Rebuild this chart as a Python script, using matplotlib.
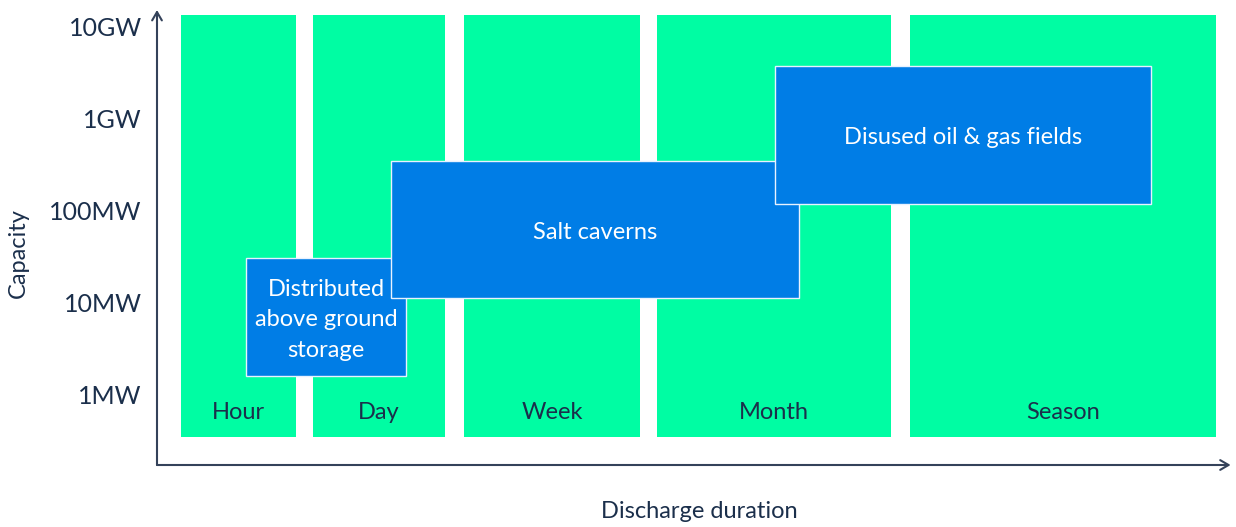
import matplotlib.pyplot as plt
from matplotlib.patches import Rectangle

plt.rcParams['font.family'] = ['Lato', 'DejaVu Sans']

# discharge duration columns (x span in chart units) and capacity range (MW)
durations = ["Hour", "Day", "Week", "Month", "Season"]
dur_start = [24, 156, 307, 500, 753]
dur_end = [139, 288, 483, 734, 1059]
col_low, col_high = 0.35, 13500
label_level = 0.65

# storage technologies: x span + capacity span (MW)
techs = ["Distributed\nabove ground\nstorage", "Salt caverns", "Disused oil & gas fields"]
tech_x0 = [89, 234, 618]
tech_x1 = [249, 642, 994]
tech_cap_low = [1.61, 11.3, 119]
tech_cap_high = [30.8, 349, 3770]

cap_ticks = [1, 10, 100, 1000, 10000]
cap_labels = ["1MW", "10MW", "100MW", "1GW", "10GW"]

green = "#00FDA3"
blue = "#007DE6"
navy = "#1B2F4B"
axis_col = "#34425A"

fig = plt.figure(figsize=(12.36, 5.27), dpi=100)
ax = fig.add_axes([157 / 1236, 62 / 527, 1079 / 1236, 455 / 527])
ax.set_yscale("log")
ax.set_xlim(0, 1079)
ax.set_ylim(0.173, 15300)

for name, x0, x1 in zip(durations, dur_start, dur_end):
    ax.add_patch(Rectangle((x0, col_low), x1 - x0, col_high - col_low,
                           facecolor=green, edgecolor="none", zorder=1))
    ax.text((x0 + x1) / 2, label_level, name, ha="center", va="center",
            fontsize=17, color=navy, zorder=2)

for i, (name, x0, x1, lo, hi) in enumerate(zip(techs, tech_x0, tech_x1, tech_cap_low, tech_cap_high)):
    ax.add_patch(Rectangle((x0, lo), x1 - x0, hi - lo, facecolor=blue,
                           edgecolor="#E8F2FF", linewidth=1, zorder=3 + i))
    ax.text((x0 + x1) / 2, (lo * hi) ** 0.5 * 0.93, name, ha="center", va="center",
            fontsize=17, color="white", linespacing=1.55, zorder=3 + i)

ax.set_yticks(cap_ticks)
ax.set_yticklabels(cap_labels, fontsize=18, color=navy)
ax.minorticks_off()
ax.tick_params(axis="y", length=0, pad=11)
ax.set_xticks([])
for s in ax.spines.values():
    s.set_visible(False)

# axis arrows
ax.annotate("", xy=(0, 1), xytext=(0, 0), xycoords="axes fraction",
            arrowprops=dict(arrowstyle="->,head_length=0.6,head_width=0.35",
                            color=axis_col, lw=1.5, shrinkA=0, shrinkB=0))
ax.annotate("", xy=(0.995, 0), xytext=(0, 0), xycoords="axes fraction",
            arrowprops=dict(arrowstyle="->,head_length=0.6,head_width=0.35",
                            color=axis_col, lw=1.5, shrinkA=0, shrinkB=0))

fig.text(18 / 1236, 1 - 253 / 527, "Capacity", rotation=90, ha="center",
         va="center", fontsize=17, color=navy)
fig.text(699 / 1236, 1 - 512 / 527, "Discharge duration", ha="center",
         va="center", fontsize=17, color=navy)

fig.savefig("out.png", dpi=100)
